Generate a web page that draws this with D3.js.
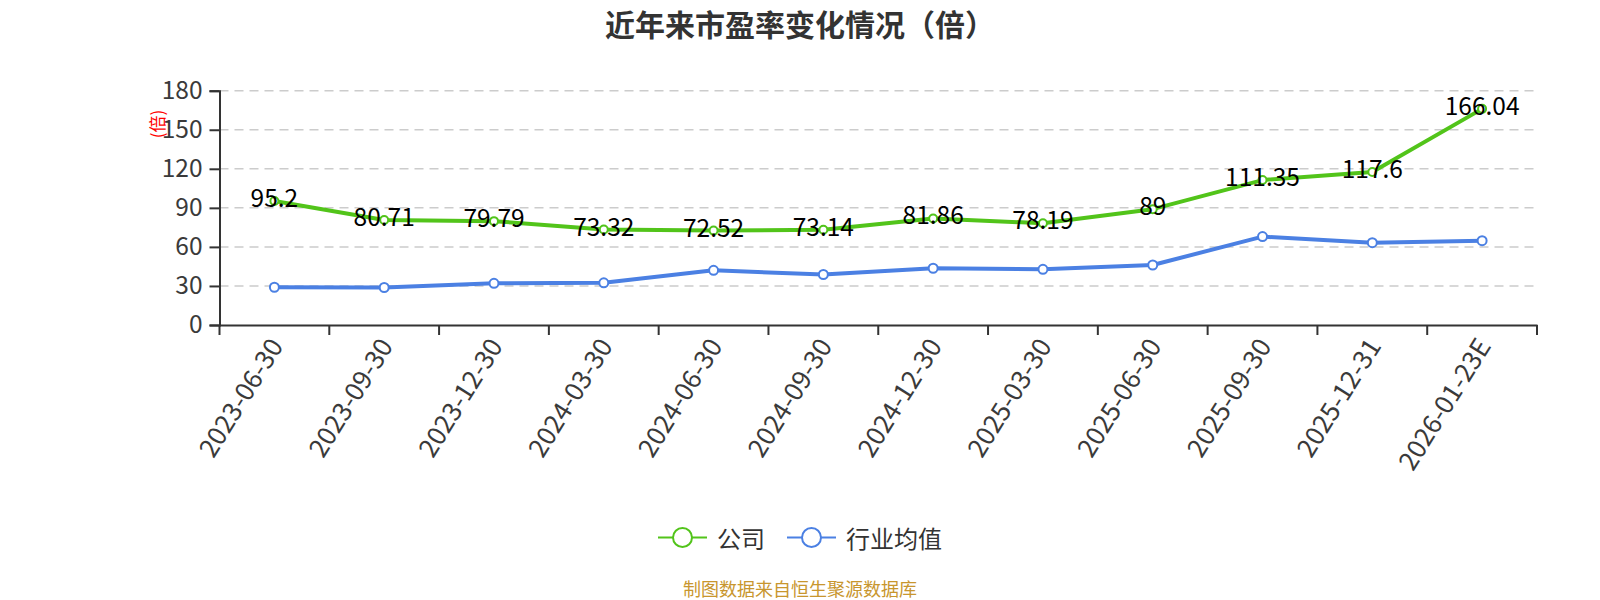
<!DOCTYPE html>
<html>
<head>
<meta charset="utf-8">
<script src="https://cdn.jsdelivr.net/npm/d3@7"></script>
<style>
  body { margin: 0; background: #fff; }
  svg { display: block; font-family: "Noto Sans CJK SC", "Noto Sans", sans-serif; }
</style>
</head>
<body>
<div class="chart"></div>
<script>
// data
var categories = ["2023-06-30", "2023-09-30", "2023-12-30", "2024-03-30", "2024-06-30", "2024-09-30",
                  "2024-12-30", "2025-03-30", "2025-06-30", "2025-09-30", "2025-12-31", "2026-01-23E"];
var companyPE = [95.2, 80.71, 79.79, 73.32, 72.52, 73.14, 81.86, 78.19, 89, 111.35, 117.6, 166.04];
var industryPE = [29.0, 28.8, 32.0, 32.4, 42.0, 38.8, 43.6, 42.8, 46.1, 67.9, 63.2, 64.8];
var yTicks = [0, 30, 60, 90, 120, 150, 180];
var seriesNames = ["公司", "行业均值"];

var w = 1600, h = 600;
var green = "#52c41a", blue = "#4b80e3";

var svg = d3.select(".chart").append("svg")
    .attr("width", w)
    .attr("height", h);

// title
svg.append("text")
    .attr("x", 800).attr("y", 23)
    .attr("text-anchor", "middle")
    .attr("dominant-baseline", "central")
    .attr("font-size", "30px")
    .attr("font-weight", "bold")
    .attr("fill", "#333")
    .text("近年来市盈率变化情况（倍）");

var x = d3.scaleBand().domain(categories).range([219.5, 1537]);
var y = d3.scaleLinear().domain([0, 180]).range([325, 90.7]);

// gridlines
svg.append("g").selectAll("line")
    .data(yTicks.filter(function(d) { return d > 0; }))
    .enter().append("line")
    .attr("x1", 219.5).attr("x2", 1537)
    .attr("y1", function(d) { return y(d); })
    .attr("y2", function(d) { return y(d); })
    .attr("stroke", "#ccc")
    .attr("stroke-width", 1.5)
    .attr("stroke-dasharray", "9,6");

// y axis
var yAxis = svg.append("g")
    .attr("transform", "translate(219.5,0)")
    .call(d3.axisLeft(y).tickValues(yTicks).tickSize(10).tickPadding(7));
yAxis.select(".domain").attr("stroke", "#333").attr("stroke-width", 2);
yAxis.selectAll(".tick line").attr("stroke", "#333").attr("stroke-width", 2);
yAxis.selectAll(".tick text")
    .attr("font-size", "24.5px")
    .attr("fill", "#3a3a3a")
    .attr("font-family", "'Noto Sans CJK SC', sans-serif");

// y axis name
svg.append("text")
    .attr("transform", "translate(156,124) rotate(-90)")
    .attr("text-anchor", "middle")
    .attr("dominant-baseline", "central")
    .attr("font-size", "17px")
    .attr("fill", "#ff0000")
    .text("(倍)");

// x axis
var xAxis = svg.append("g")
    .attr("transform", "translate(0,325)")
    .call(d3.axisBottom(x).tickSize(0).tickPadding(0));
xAxis.select(".domain").attr("stroke", "#333").attr("stroke-width", 2);
xAxis.selectAll(".tick text")
    .attr("font-size", "26px")
    .attr("fill", "#3a3a3a")
    .attr("font-family", "'Noto Sans CJK SC', sans-serif")
    .attr("text-anchor", "end")
    .attr("dy", null)
    .attr("y", 0)
    .attr("dominant-baseline", "central")
    .attr("transform", "translate(0,15) rotate(-58)");

// tick marks on band boundaries
var bounds = categories.map(function(c) { return x(c); }).concat([x.range()[1]]);
xAxis.selectAll(".bound")
    .data(bounds)
    .enter().append("line")
    .attr("class", "bound")
    .attr("x1", function(d) { return d; })
    .attr("x2", function(d) { return d; })
    .attr("y1", 0).attr("y2", 10)
    .attr("stroke", "#333")
    .attr("stroke-width", 2);

function cx(d, i) { return x(categories[i]) + x.bandwidth() / 2; }

var line = d3.line()
    .x(function(d, i) { return cx(d, i); })
    .y(function(d) { return y(d); });

function drawSeries(values, color, r) {
    svg.append("path")
        .datum(values)
        .attr("d", line)
        .attr("fill", "none")
        .attr("stroke", color)
        .attr("stroke-width", 4)
        .attr("stroke-linejoin", "round");
    svg.append("g").selectAll("circle")
        .data(values)
        .enter().append("circle")
        .attr("cx", cx)
        .attr("cy", function(d) { return y(d); })
        .attr("r", r)
        .attr("fill", "#fff")
        .attr("stroke", color)
        .attr("stroke-width", 2);
}

drawSeries(industryPE, blue, 4.5);
drawSeries(companyPE, green, 4);

// value labels for company series
svg.append("g").selectAll("text")
    .data(companyPE)
    .enter().append("text")
    .attr("x", cx)
    .attr("y", function(d) { return y(d) - 4.5; })
    .attr("text-anchor", "middle")
    .attr("dominant-baseline", "central")
    .attr("font-size", "24.5px")
    .attr("fill", "#000")
    .text(function(d) { return d; });

// legend
var legend = [
    { name: seriesNames[0], color: green, x0: 658, tx: 717 },
    { name: seriesNames[1], color: blue, x0: 787, tx: 846 }
];
var lg = svg.append("g").selectAll("g")
    .data(legend)
    .enter().append("g");
lg.append("line")
    .attr("x1", function(d) { return d.x0; })
    .attr("x2", function(d) { return d.x0 + 49; })
    .attr("y1", 537.5).attr("y2", 537.5)
    .attr("stroke", function(d) { return d.color; })
    .attr("stroke-width", 2);
lg.append("circle")
    .attr("cx", function(d) { return d.x0 + 24.5; })
    .attr("cy", 537.5)
    .attr("r", 9.5)
    .attr("fill", "#fff")
    .attr("stroke", function(d) { return d.color; })
    .attr("stroke-width", 2);
lg.append("text")
    .attr("x", function(d) { return d.tx; })
    .attr("y", 537.5)
    .attr("dominant-baseline", "central")
    .attr("font-size", "24px")
    .attr("fill", "#333")
    .text(function(d) { return d.name; });

// footer
svg.append("text")
    .attr("x", 800).attr("y", 588)
    .attr("text-anchor", "middle")
    .attr("dominant-baseline", "central")
    .attr("font-size", "18px")
    .attr("fill", "#c8962e")
    .text("制图数据来自恒生聚源数据库");
</script>
</body>
</html>
